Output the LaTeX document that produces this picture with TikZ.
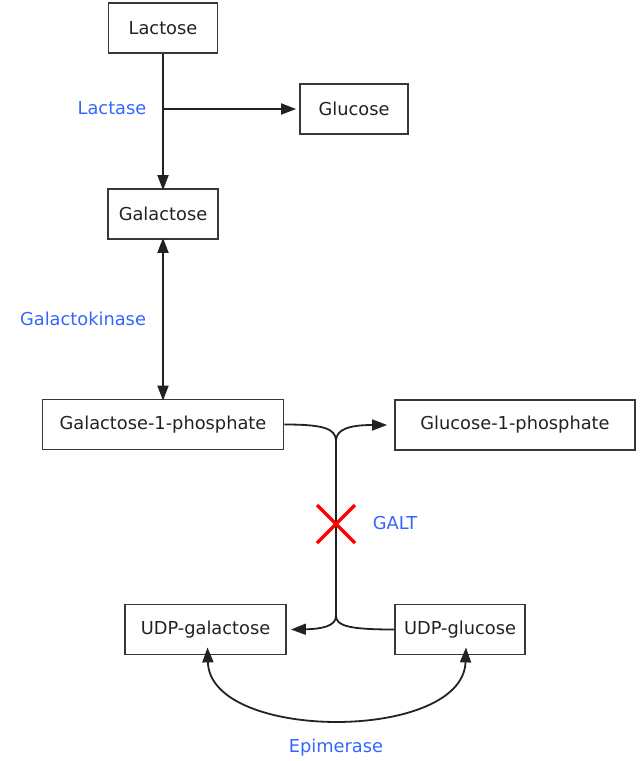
\documentclass[tikz,border=0pt]{standalone}
\usepackage{fontspec}
\setmainfont{DejaVu Sans}
\usetikzlibrary{arrows.meta}
\definecolor{enz}{RGB}{51,102,255}
\definecolor{ink}{RGB}{34,34,34}
\tikzset{
  box/.style={draw=ink!90, line width=1.8pt, minimum height=50pt, inner sep=0pt, text=ink, font=\fontsize{17.8}{21}\selectfont},
  enzyme/.style={text=enz, font=\fontsize{17.8}{21}\selectfont},
  conn/.style={line width=1.8pt, draw=ink},
  arr/.style={conn, -{Triangle[length=15pt,width=11pt]}},
  darr/.style={conn, {Triangle[length=15pt,width=11pt]}-{Triangle[length=15pt,width=11pt]}},
  block/.style={red, line width=3.2pt}
}
\begin{document}
\begin{tikzpicture}[x=1pt,y=-1pt]
\useasboundingbox (0,0) rectangle (644,761);
\node[box, minimum width=109pt] (lac) at (163,28) {Lactose};
\node[box, minimum width=108pt] (glc) at (354,109) {Glucose};
\node[box, minimum width=110pt] (gal) at (163,214) {Galactose};
\node[box, minimum width=241pt] (g1p) at (163,424.5) {Galactose-1-phosphate};
\node[box, minimum width=240pt] (glc1p) at (515,425) {Glucose-1-phosphate};
\node[box, minimum width=161pt] (udpgal) at (205.5,629.5) {UDP-galactose};
\node[box, minimum width=130pt] (udpglc) at (460,629.5) {UDP-glucose};

\node[enzyme] (lactase) at (112,108) {Lactase};
\node[enzyme] (gk) at (83,319) {Galactokinase};
\node[enzyme] (galt) at (395,523) {GALT};
\node[enzyme] (epi) at (336,748) {Epimerase};

% Lactase
\draw[arr] (lac.south) -- ([yshift=-2pt]gal.north);
\coordinate (br) at (lac.south |- glc.west);
\draw[arr] (br) -- ([xshift=-3pt]glc.west);

% Galactokinase
\draw[darr] ([yshift=2pt]gal.south) -- ([yshift=-2pt]g1p.north);

% GALT
\coordinate (jt) at (336,441);
\coordinate (jb) at (336,616);
\draw[arr] (g1p.east) .. controls (322,424.5) and (336,428) .. (jt) -- (jb)
  .. controls (336,626) and (322,629) .. ([xshift=4pt]udpgal.east);
\draw[arr] (udpglc.west) .. controls (350,629.5) and (336,626) .. (jb) -- (jt)
  .. controls (336,429) and (350,425) .. ([xshift=-7pt]glc1p.west);
\coordinate (xc) at (336,524);
\draw[block] ([shift={(-19,-19)}]xc) -- ([shift={(19,19)}]xc);
\draw[block] ([shift={(-19,19)}]xc) -- ([shift={(19,-19)}]xc);

% Epimerase
\draw[darr] ([xshift=2pt,yshift=8pt]udpgal.south) .. controls (210,742) and (463,742) .. ([xshift=6pt,yshift=8pt]udpglc.south);
\end{tikzpicture}
\end{document}
